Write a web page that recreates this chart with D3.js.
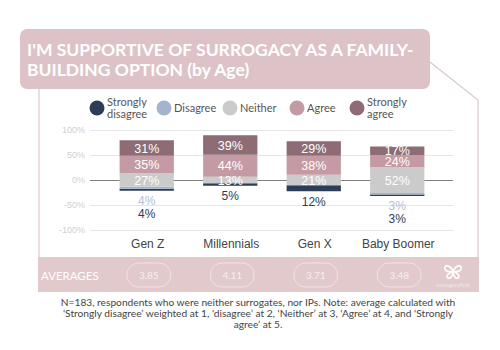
<!DOCTYPE html>
<html lang="en">
<head>
<meta charset="utf-8">
<title>Surrogacy support by age</title>
<script src="https://cdn.jsdelivr.net/npm/d3@7"></script>
<style>
  body { margin: 0; background: #fff; }
  svg { display: block; }
</style>
</head>
<body>
<svg id="chart"></svg>
<script>
// data
let ages = ["Gen Z", "Millennials", "Gen X", "Baby Boomer"];
let stronglyDisagree = [4, 5, 12, 3];
let disagree = [4, 0, 0, 3];
let neither = [27, 13, 21, 52];
let agree = [35, 44, 38, 24];
let stronglyAgree = [31, 39, 29, 17];
let averages = ["3.85", "4.11", "3.71", "3.48"];
let yTicks = [100, 50, 0, -50, -100];
let legendNames = [["Strongly", "disagree"], ["Disagree"], ["Neither"], ["Agree"], ["Strongly", "agree"]];
let footnote = [
  "N=183, respondents who were neither surrogates, nor IPs. Note: average calculated with",
  "\u2018Strongly disagree\u2019 weighted at 1, \u2018disagree\u2019 at 2, \u2018Neither\u2019 at 3, \u2018Agree\u2019 at 4, and \u2018Strongly",
  "agree\u2019 at 5."
];

let colors = ["#2d3d58", "#a3b4cc", "#cbcbcb", "#c49ba4", "#8d6c75"];
let gothic = "Lato, 'Open Sans', sans-serif";
let arial = "'Liberation Sans', Arial, sans-serif";

let svg = d3.select("#chart").attr("width", 500).attr("height", 350);
svg.append("rect").attr("width", 500).attr("height", 350).attr("fill", "#fff");

// frame lines
svg.append("path")
  .attr("d", "M430,62 L478,100 L478,258 M39,88 L39,258")
  .attr("fill", "none").attr("stroke", "#dcc8cb").attr("stroke-width", 1.2);

// title box
svg.append("rect")
  .attr("x", 20).attr("y", 29).attr("width", 410).attr("height", 60)
  .attr("rx", 7).attr("fill", "#ddc3c7");
svg.append("text")
  .attr("x", 27).attr("y", 62)
  .attr("fill", "#fff").attr("font-family", gothic).attr("font-weight", "bold").attr("font-size", 17.5)
  .selectAll("tspan")
  .data(["I'M SUPPORTIVE OF SURROGACY AS A FAMILY-", "BUILDING OPTION (by Age)"])
  .join("tspan")
  .attr("x", 27).attr("dy", (d, i) => i ? 20 : -6)
  .text(d => d);

// scales
let x = d3.scaleBand().domain(ages).range([105, 439]).paddingInner(0.35).paddingOuter(0.175);
let y = d3.scaleLinear().domain([-100, 100]).range([230, 130]);

// gridlines + y labels
let yAxis = svg.append("g")
  .attr("transform", "translate(90,0)")
  .call(d3.axisLeft(y).tickValues(yTicks).tickSize(-363).tickPadding(5).tickFormat(d => d + "%"));
yAxis.select(".domain").remove();
yAxis.selectAll("line").attr("stroke", d => d === 0 ? "#808080" : "#e6e6e6").attr("stroke-width", d => d === 0 ? 1.2 : 1);
yAxis.selectAll("text").attr("fill", "#cfcfcf").attr("font-family", arial).attr("font-size", 9);

// build stacked segments, Neither centred on zero
let segs = [];
let below = [];
ages.forEach((a, i) => {
  let n = neither[i] / 2;
  let vals = [stronglyDisagree[i], disagree[i], neither[i], agree[i], stronglyAgree[i]];
  let bounds = [
    [-n - disagree[i] - stronglyDisagree[i], -n - disagree[i]],
    [-n - disagree[i], -n],
    [-n, n],
    [n, n + agree[i]],
    [n + agree[i], n + agree[i] + stronglyAgree[i]]
  ];
  bounds.forEach((b, k) => {
    if (vals[k] > 0) segs.push({ age: a, k: k, v: vals[k], y0: b[0], y1: b[1] });
  });
  // labels for the negative side go under the bar
  let slot = 0;
  [1, 0].forEach(k => {
    if (vals[k] > 0) {
      below.push({ age: a, k: k, v: vals[k], bottom: bounds[0][0], slot: slot });
      slot++;
    }
  });
});

let bars = svg.append("g");
bars.selectAll("rect")
  .data(segs)
  .join("rect")
  .attr("x", d => x(d.age))
  .attr("width", x.bandwidth())
  .attr("y", d => y(d.y1))
  .attr("height", d => y(d.y0) - y(d.y1))
  .attr("fill", d => colors[d.k]);

bars.selectAll("text.inside")
  .data(segs.filter(d => d.k >= 2))
  .join("text")
  .attr("class", "inside")
  .attr("x", d => x(d.age) + x.bandwidth() / 2)
  .attr("y", d => y((d.y0 + d.y1) / 2))
  .attr("dy", "0.36em")
  .attr("text-anchor", "middle")
  .attr("fill", "#fff")
  .attr("font-family", arial).attr("font-size", 12.5)
  .text(d => d.v + "%");

bars.selectAll("text.below")
  .data(below)
  .join("text")
  .attr("class", "below")
  .attr("x", d => x(d.age) + x.bandwidth() / 2)
  .attr("y", d => y(d.bottom) + 10 + d.slot * 13)
  .attr("dy", "0.36em")
  .attr("text-anchor", "middle")
  .attr("fill", d => d.k === 1 ? "#b4c0d4" : "#2d3d58")
  .attr("font-family", arial).attr("font-size", 12)
  .text(d => d.v + "%");

// category labels
svg.append("g").selectAll("text")
  .data(ages)
  .join("text")
  .attr("x", d => x(d) + x.bandwidth() / 2 + 1)
  .attr("y", 248)
  .attr("text-anchor", "middle")
  .attr("fill", "#444")
  .attr("font-family", arial).attr("font-size", 12)
  .text(d => d);

// legend
let legendX = [97, 164, 230, 297, 357];
let legend = svg.append("g").selectAll("g")
  .data(legendNames)
  .join("g")
  .attr("transform", (d, i) => "translate(" + legendX[i] + ",108)");
legend.append("circle").attr("r", 7.5).attr("fill", (d, i) => colors[i]);
legend.append("text")
  .attr("fill", "#555").attr("font-family", gothic).attr("font-size", 11)
  .selectAll("tspan")
  .data(d => d.map((t, j) => ({ t: t, j: j, n: d.length })))
  .join("tspan")
  .attr("x", 10)
  .attr("y", d => d.n === 1 ? 4 : (d.j === 0 ? -2 : 10))
  .text(d => d.t);

// averages band
svg.append("rect")
  .attr("x", 38).attr("y", 257).attr("width", 441).attr("height", 35)
  .attr("fill", "#e2c9cc");
svg.append("text")
  .attr("x", 41).attr("y", 280)
  .attr("fill", "#fff").attr("font-family", gothic).attr("font-size", 11.5)
  .text("AVERAGES");
let pills = svg.append("g").selectAll("g")
  .data(averages)
  .join("g")
  .attr("transform", (d, i) => "translate(" + (x(ages[i]) + x.bandwidth() / 2 + 2) + ",275)");
pills.append("rect")
  .attr("x", -22).attr("y", -12).attr("width", 44).attr("height", 24).attr("rx", 12)
  .attr("fill", "none").attr("stroke", "#f0e3e5").attr("stroke-width", 1);
pills.append("text")
  .attr("text-anchor", "middle").attr("dy", "0.36em")
  .attr("fill", "#f6eef0").attr("font-family", gothic).attr("font-size", 10)
  .text(d => d);

// little butterfly logo
let logo = svg.append("g").attr("transform", "translate(453,271)")
  .attr("fill", "none").attr("stroke", "#fff").attr("stroke-width", 1.6);
logo.append("path").attr("d", "M0,0 C-3,-6 -9,-7 -8,-2 C-7,1 -4,1 0,0 C-4,2 -8,5 -5,7 C-2,8 0,4 0,0");
logo.append("path").attr("d", "M0,0 C3,-6 9,-7 8,-2 C7,1 4,1 0,0 C4,2 8,5 5,7 C2,8 0,4 0,0");
svg.append("text")
  .attr("x", 453).attr("y", 287).attr("text-anchor", "middle")
  .attr("fill", "#f3e8ea").attr("font-family", gothic).attr("font-size", 5.5)
  .text("surrogacyfirst");

// footnote
svg.append("text")
  .attr("fill", "#444").attr("font-family", gothic).attr("font-size", 10.2)
  .attr("text-anchor", "middle")
  .selectAll("tspan")
  .data(footnote)
  .join("tspan")
  .attr("x", 258)
  .attr("y", (d, i) => 306 + i * 11)
  .text(d => d);
</script>
</body>
</html>
